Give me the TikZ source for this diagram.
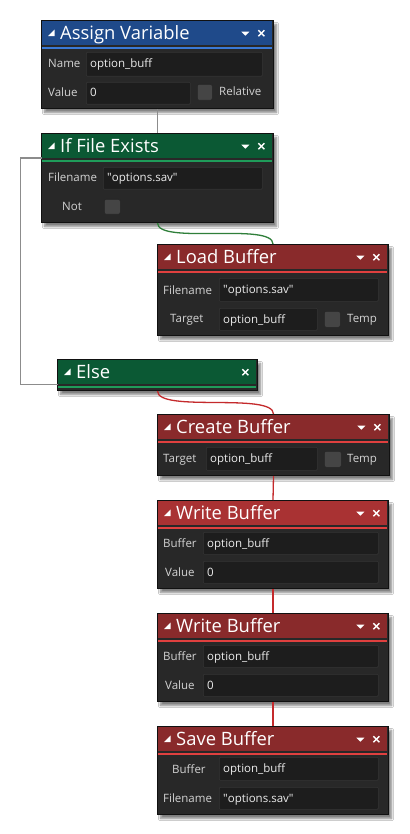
\documentclass[tikz,border=0pt]{standalone}
\usepackage{fontspec}
\setmainfont{Open Sans}
\usepackage{tikz}
\usetikzlibrary{shadows.blur}
\definecolor{bodygray}{HTML}{282828}
\definecolor{edgegray}{HTML}{111111}
\definecolor{fieldgray}{HTML}{1D1D1D}
\definecolor{fieldedge}{HTML}{343434}
\definecolor{boxgray}{HTML}{454545}
\definecolor{lbltext}{HTML}{D2D2D2}
\definecolor{hblue}{HTML}{1F4A8A}
\definecolor{ablue}{HTML}{3B7AD6}
\definecolor{hgreen}{HTML}{0B5934}
\definecolor{agreen}{HTML}{1F9C5A}
\definecolor{hred}{HTML}{892A2B}
\definecolor{hbright}{HTML}{A93233}
\definecolor{ared}{HTML}{E0403F}
\definecolor{wiregray}{HTML}{8C8C8C}
\definecolor{wiregreen}{HTML}{2F7F3A}
\definecolor{wirered}{HTML}{C42A2C}
\tikzstyle{block}=[rectangle, draw=edgegray, fill=bodygray, line width=1pt, inner sep=0pt, anchor=north west, blur shadow={shadow xshift=3pt, shadow yshift=-4pt, shadow blur steps=6, shadow opacity=50}]
\tikzstyle{header}=[rectangle, draw=none, inner sep=0pt, anchor=north west, minimum height=24pt]
\tikzstyle{accent}=[line width=2pt]
\tikzstyle{title}=[font=\fontsize{18.4}{20}\selectfont, text=white, anchor=base west, inner sep=0pt]
\tikzstyle{lbl}=[font=\fontsize{11.5}{13}\selectfont, text=lbltext, anchor=base west, inner sep=0pt]
\tikzstyle{field}=[rectangle, draw=fieldedge, fill=fieldgray, rounded corners=1pt, line width=0.6pt, inner sep=0pt, anchor=north west]
\tikzstyle{fieldtext}=[font=\fontsize{11.5}{13}\selectfont, text=white!92!black, anchor=base west, inner sep=0pt]
\tikzstyle{checkbox}=[rectangle, draw=black!85, fill=boxgray, rounded corners=2pt, line width=0.6pt, inner sep=0pt, anchor=north west]
\tikzstyle{icon}=[fill=white, draw=none]
\tikzstyle{closex}=[draw=white, line width=1.4pt]
\tikzstyle{wire} = [draw,line width=1.3pt,-]

\begin{document}
\begin{tikzpicture}[x=1pt, y=-1pt]
\useasboundingbox[fill=white] (0,0) rectangle (409,834);
% First we draw the blocks

\foreach \name/\x/\y/\w/\h/\col/\acc/\ttl in {
	assign/41/20/232/88/hblue/ablue/Assign Variable,
	iffile/41/133/232/89/hgreen/agreen/If File Exists,
	load/157/244/231/91/hred/ared/Load Buffer,
	else/57/359/200/31/hgreen/agreen/Else,
	create/157/414/232/61/hred/ared/Create Buffer,
	writeA/157/500/231/88/hbright/ared/Write Buffer,
	writeB/157/613/231/88/hred/ared/Write Buffer,
	save/157/726/231/88/hred/ared/Save Buffer}
{
\node[block, minimum width=\w pt, minimum height=\h pt] (\name) at (\x,\y) {};
\node[header, fill=\col, minimum width=\w pt-2pt] (hd\name) at (\x+1,\y+1) {};
\draw[accent, draw=\acc] ([yshift=-2.5pt]hd\name.south west) -- ([yshift=-2.5pt]hd\name.south east);
\node[title] (t\name) at ([xshift=18pt,yshift=-6.5pt]hd\name.west) {\ttl};
\fill[icon] ([xshift=6pt,yshift=-3pt]hd\name.west) -- ++(6.5,0) -- ++(0,-6.5) -- cycle;
\draw[closex] ([xshift=-14pt,yshift=3pt]hd\name.east) -- ++(6,6);
\draw[closex] ([xshift=-8pt,yshift=3pt]hd\name.east) -- ++(-6,6);
}

% dropdown arrows
\foreach \name in {assign,iffile,load,create,writeA,writeB,save}
\fill[icon] ([xshift=-31pt,yshift=1.5pt]hd\name.east) -- ++(8,0) -- ++(-4,4) -- cycle;

% Then the fields with their contents
\foreach \fname/\a/\b/\c/\d/\txt in {
	f1/86/52/262/76/option\_buff,
	f2/86/82/190/104/0,
	f3/103/167/262/189/\textquotedbl options.sav\textquotedbl,
	f4/219/278/378/301/\textquotedbl options.sav\textquotedbl,
	f5/219/308/317/330/option\_buff,
	f6/206/447/317/470/option\_buff,
	f7/203/532/378/554/option\_buff,
	f8/203/561/378/583/0,
	f9/203/645/378/667/option\_buff,
	f10/203/674/378/696/0,
	f11/219/757/378/780/option\_buff,
	f12/219/787/378/809/\textquotedbl options.sav\textquotedbl}
{
\node[field, minimum width=\c pt-\a pt, minimum height=\d pt-\b pt] (\fname) at (\a,\b) {};
\node[fieldtext] (\fname t) at ({\a+4},{(\b+\d)/2+4}) {\txt};
}

% check boxes
\foreach \bname/\a/\b/\c/\d in {
	c1/197/84/212/100,
	c2/104/199/120/214,
	c3/324/311/340/327,
	c4/324/451/341/467}
\node[checkbox, minimum width=\c pt-\a pt, minimum height=\d pt-\b pt] (\bname) at (\a,\b) {};

% labels
\foreach \lname/\a/\b/\txt in {
	l1/48/68/Name,
	l2/48/97/Value,
	l3/219/96/Relative,
	l4/48/182/Filename,
	l5/62/211/Not,
	l6/163/294/Filename,
	l7/170/322/Target,
	l8/347/322/Temp,
	l9/163/462/Target,
	l10/347/462/Temp,
	l11/163/547/Buffer,
	l12/165/576/Value,
	l13/163/660/Buffer,
	l14/165/689/Value,
	l15/172/773/Buffer,
	l16/163/802/Filename}
\node[lbl] (\lname) at (\a,\b) {\txt};

% Connect the blocks
\path[wire, draw=wiregray, line width=1.8pt] (assign.south) -- (iffile.north);
\path[wire, draw=wiregray, line width=1.8pt] (hdiffile.south west) -- ++(-21.5,0) |- (hdelse.south west);
\path[wire, draw=wiregreen] (iffile.south) .. controls +(0,22) and +(0,-22) .. (load.north);
\path[wire, draw=wirered] (else.south) .. controls +(0,22) and +(0,-22) .. (create.north);
\foreach \source/\dest in {
	create/writeA,
	writeA/writeB,
	writeB/save}
\path[wire, draw=wirered] (\source.south) -- (\dest.north);

\end{tikzpicture}
\end{document}
